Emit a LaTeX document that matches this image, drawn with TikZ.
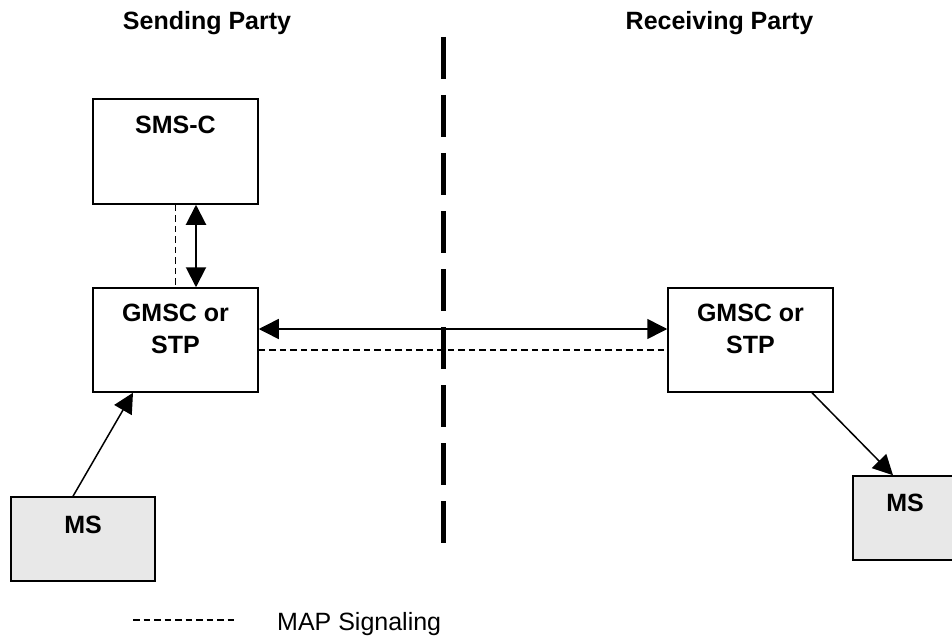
\documentclass[tikz,border=0pt]{standalone}
\usepackage{fontspec}
\setmainfont{Liberation Sans}
\usetikzlibrary{arrows.meta}
\begin{document}
\begin{tikzpicture}[x=1pt,y=-1pt,
  box/.style={draw=black,line width=1.5pt,rectangle,inner sep=0pt,minimum width=165pt,minimum height=104pt},
  msbox/.style={draw=black,line width=1.5pt,rectangle,inner sep=0pt,fill=black!9,minimum width=144pt,minimum height=84pt},
  lbl/.style={inner sep=0pt,anchor=base,font=\fontsize{25}{32}\selectfont\bfseries,align=center},
  conn/.style={line width=1.5pt,-{Triangle[length=20pt,width=20pt]}},
  dconn/.style={line width=1.5pt,{Triangle[length=20pt,width=20pt]}-{Triangle[length=20pt,width=20pt]}},
  sig/.style={line width=1.2pt,dash pattern=on 6.5pt off 4pt},
  divider/.style={line width=5pt,dash pattern=on 42pt off 16pt}]
\useasboundingbox (0,0) rectangle (952,639);
\clip (0,0) rectangle (952,639);
% boxes
\node[box,minimum height=105pt] (smsc) at (175.5,151.5) {};
\node[box] (gl) at (175.5,340) {};
\node[box] (gr) at (750.5,340) {};
\node[msbox] (msl) at (83,539) {};
\node[msbox,minimum width=104pt] (msr) at (905,518) {};
% texts
\node[lbl] (t1) at (207,30) {Sending Party};
\node[lbl] (t2) at (719.5,30) {Receiving Party};
\node[lbl] (tsmsc) at (175.5,134) {SMS-C};
\node[lbl] (tgl1) at (175.5,321) {GMSC or};
\node[lbl] (tgl2) at (175.5,353) {STP};
\node[lbl] (tgr1) at (750.5,321) {GMSC or};
\node[lbl] (tgr2) at (750.5,353) {STP};
\node[lbl] (tmsl) at (83,533) {MS};
\node[lbl] (tmsr) at (905,511) {MS};
% divider
\coordinate (dtop) at (443,37);
\coordinate (dbot) at (443,545);
\draw[divider] (dtop) -- (dbot);
% connectors
\draw[sig] (smsc.south) -- (gl.north);
\draw[dconn,line width=2pt] ([xshift=20.5pt]smsc.south) -- ([xshift=20.5pt]gl.north);
\draw[dconn] ([yshift=11pt]gl.east) -- ([yshift=11pt]gr.west);
\draw[sig] ([yshift=-10pt]gl.east) -- ([yshift=-10pt]gr.west);
\draw[conn] ([xshift=-10pt]msl.north) -- ([xshift=-42.5pt]gl.south);
\draw[conn] ([xshift=61.5pt]gr.south) -- ([xshift=-12pt]msr.north);
% legend
\coordinate (la) at (133,620);
\coordinate (lb) at (234,620);
\draw[sig] (la) -- (lb);
\node[inner sep=0pt,anchor=base west,font=\fontsize{25}{30}\selectfont] (legend) at (277,630) {MAP Signaling};
\end{tikzpicture}
\end{document}
